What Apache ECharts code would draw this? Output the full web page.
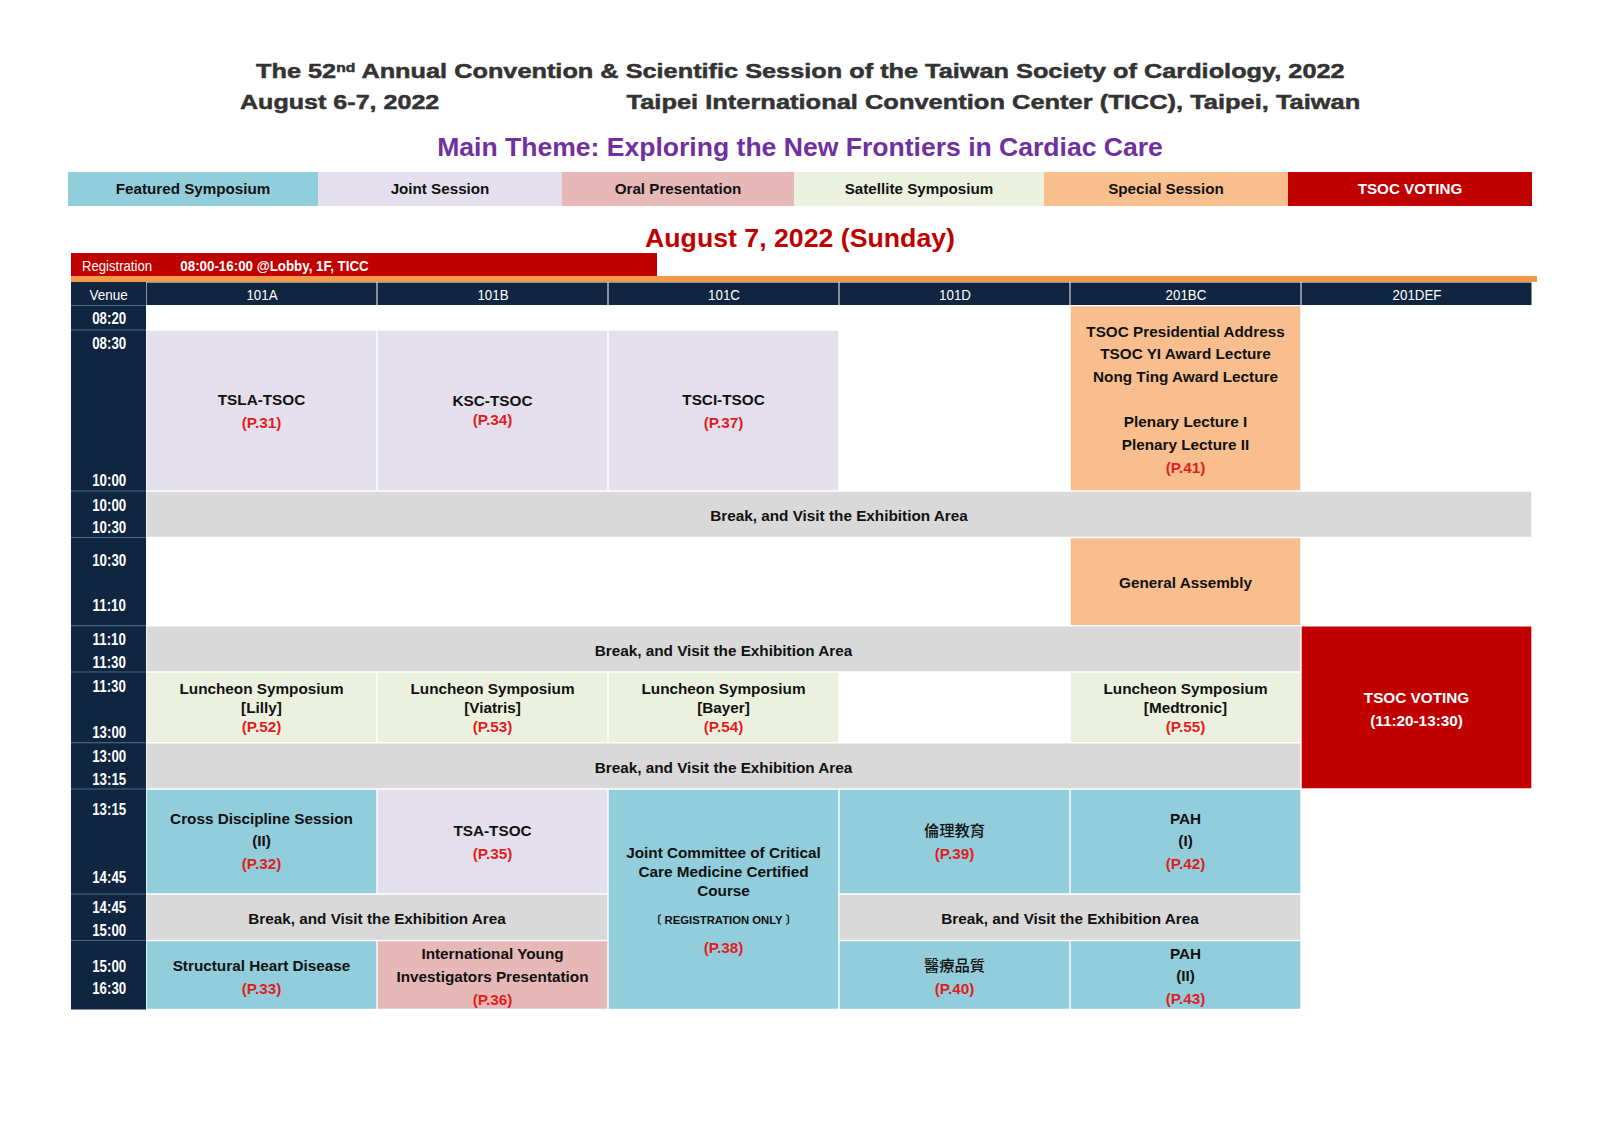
<!DOCTYPE html>
<html>
<head>
<meta charset="utf-8">
<title>TSOC 2022 program</title>
<script src="https://cdn.jsdelivr.net/npm/echarts@6/dist/echarts.min.js"></script>
<style>
html, body { margin: 0; padding: 0; background: #fff; }
#program { width: 1600px; height: 1131px; }
</style>
</head>
<body>
<div id="program"></div>
<script>
// ---- content
var kinds = ['Featured Symposium', 'Joint Session', 'Oral Presentation', 'Satellite Symposium', 'Special Session', 'TSOC VOTING'];
var venues = ['101A', '101B', '101C', '101D', '201BC', '201DEF'];
var timeRows = [['08:20'], ['08:30', '10:00'], ['10:00', '10:30'], ['10:30', '11:10'], ['11:10', '11:30'], ['11:30', '13:00'], ['13:00', '13:15'], ['13:15', '14:45'], ['14:45', '15:00'], ['15:00', '16:30']];
var breakText = 'Break, and Visit the Exhibition Area';

// venue from, venue to (exclusive), time row from, time row to (exclusive), kind (-1 = break), text lines, page
var sessions = [
    [0, 1, 1, 2, 1, ['TSLA-TSOC'], 'P.31'],
    [1, 2, 1, 2, 1, ['KSC-TSOC'], 'P.34'],
    [2, 3, 1, 2, 1, ['TSCI-TSOC'], 'P.37'],
    [4, 5, 0, 2, 4, ['TSOC Presidential Address', 'TSOC YI Award Lecture', 'Nong Ting Award Lecture', '', 'Plenary Lecture I', 'Plenary Lecture II'], 'P.41'],
    [0, 6, 2, 3, -1, [breakText], ''],
    [4, 5, 3, 4, 4, ['General Assembly'], ''],
    [0, 5, 4, 5, -1, [breakText], ''],
    [5, 6, 4, 7, 5, ['TSOC VOTING', '(11:20-13:30)'], ''],
    [0, 1, 5, 6, 3, ['Luncheon Symposium', '[Lilly]'], 'P.52'],
    [1, 2, 5, 6, 3, ['Luncheon Symposium', '[Viatris]'], 'P.53'],
    [2, 3, 5, 6, 3, ['Luncheon Symposium', '[Bayer]'], 'P.54'],
    [4, 5, 5, 6, 3, ['Luncheon Symposium', '[Medtronic]'], 'P.55'],
    [0, 5, 6, 7, -1, [breakText], ''],
    [0, 1, 7, 8, 0, ['Cross Discipline Session', '(II)'], 'P.32'],
    [1, 2, 7, 8, 1, ['TSA-TSOC'], 'P.35'],
    [2, 3, 7, 10, 0, ['Joint Committee of Critical', 'Care Medicine Certified', 'Course', '〔 REGISTRATION ONLY 〕'], 'P.38'],
    [3, 4, 7, 8, 0, ['倫理教育'], 'P.39'],
    [4, 5, 7, 8, 0, ['PAH', '(I)'], 'P.42'],
    [0, 2, 8, 9, -1, [breakText], ''],
    [3, 5, 8, 9, -1, [breakText], ''],
    [0, 1, 9, 10, 0, ['Structural Heart Disease'], 'P.33'],
    [1, 2, 9, 10, 2, ['International Young', 'Investigators Presentation'], 'P.36'],
    [3, 4, 9, 10, 0, ['醫療品質'], 'P.40'],
    [4, 5, 9, 10, 0, ['PAH', '(II)'], 'P.43']
];

// ---- layout and style, kept apart from the content
var kindColors = ['#92CDDC', '#E4DFEC', '#E6B8B7', '#EBF1DE', '#F8BE8E', '#C00000'];
var legendWidths = [250, 244, 232, 250, 244, 244];
var navy = '#10253F', breakColor = '#D9D9D9', pageColor = '#E01E1E';
var sansFont = '"Liberation Sans", "Noto Sans CJK TC", sans-serif';

// band heights of the y axis: registration, orange rule, venue header, then one per time row
var topBands = [23, 6, 23.5];
var rowBands = [24.5, 161, 46.5, 88.2, 46.3, 70.7, 46.3, 105, 46.5, 69];
var rowEdges = [topBands[0] + topBands[1] + topBands[2]];
rowBands.forEach(function (h, i) { rowEdges.push(rowEdges[i] + h); });
var timeColumn = -75 / 231, orangeEnd = 6 + 5 / 231;

// inset of the first time label from the row top, of the second from the row bottom
var timeInsets = [[13.3], [13.5, 10.6], [14.3, 9.7], [23.3, 19.9], [14.1, 9.5], [14.8, 10.2], [14.1, 9.2], [20.5, 16.2], [13.8, 10], [26, 20.7]];
// text line gap and shift from the cell centre, same order as sessions
var textFit = [
    [22.4, 0.5], [18.5, -0.5], [22.4, 0.5], [22.7, 1], [22, 0.75], [22, 1.2], [22, 1.5], [23.3, 1.7],
    [19.3, 0], [19.3, 0], [19.3, 0], [19.3, 0], [22, 1.7], [22.4, -0.9], [22.6, 0.5], [0, 0],
    [23, 0], [22.4, -0.9], [22, 1.05], [22, 1.05], [22.4, 2], [23, 1], [23, 1.8], [22.5, 0.5]
];
var jointOffsets = [-46.5, -27.5, -8.7, 20.8, 48];

function textEl(text, x, y, font, fill, scaleX) {
    return {
        type: 'text', x: x, y: y, scaleX: scaleX || 1, silent: true,
        style: { text: text, font: font, fill: fill, align: 'center', verticalAlign: 'middle' }
    };
}

function cellRect(api, from, to, y0, y1, fill, inset) {
    var a = api.coord([from, y0]), b = api.coord([to, y1]);
    var g = inset === undefined ? 0.7 : inset;
    return {
        type: 'rect',
        shape: { x: a[0] + g, y: a[1] + g, width: b[0] - a[0] - 2 * g, height: b[1] - a[1] - 2 * g },
        style: { fill: fill }
    };
}

function lineFont(line) {
    if (line.indexOf('REGISTRATION') >= 0) return 'bold 11.3px ' + sansFont;
    if (/[\u4e00-\u9fff]/.test(line)) return '500 15.3px ' + sansFont;
    return 'bold 15.3px ' + sansFont;
}

function renderSession(params, api) {
    var s = sessions[params.dataIndex];
    var fit = textFit[params.dataIndex];
    var a = api.coord([s[0], rowEdges[s[2]]]), b = api.coord([s[1], rowEdges[s[3]]]);
    var cx = (a[0] + b[0]) / 2, cy = (a[1] + b[1]) / 2;
    var children = [cellRect(api, s[0], s[1], rowEdges[s[2]], rowEdges[s[3]], s[4] < 0 ? breakColor : kindColors[s[4]])];
    var lines = s[6] ? s[5].concat(['(' + s[6] + ')']) : s[5];
    lines.forEach(function (line, i) {
        if (!line) return;
        var isPage = s[6] && i === lines.length - 1;
        var off = params.dataIndex === 15 ? jointOffsets[i] : (i - (lines.length - 1) / 2) * fit[0] + fit[1];
        children.push(textEl(line, cx, cy + off, lineFont(line),
            isPage ? pageColor : (s[4] === 5 ? '#fff' : '#111')));
    });
    return { type: 'group', children: children };
}

function renderHeader(params, api) {
    var i = params.dataIndex;
    var top = topBands[0] + topBands[1], bottom = top + topBands[2];
    if (i === 0) {
        var a = api.coord([timeColumn, top]), b = api.coord([0, bottom]);
        return { type: 'group', children: [
            cellRect(api, timeColumn, 0, top, bottom - 0.5, navy, 0),
            textEl('Venue', (a[0] + b[0]) / 2, (a[1] + b[1]) / 2 + 1.3, '15px ' + sansFont, '#fff', 0.9)
        ] };
    }
    var c = api.coord([i - 1, top]), d = api.coord([i, bottom]);
    return { type: 'group', children: [
        cellRect(api, i - 1, i, top, bottom, navy, 0.5),
        textEl(venues[i - 1], (c[0] + d[0]) / 2 + 0.5, (c[1] + d[1]) / 2 + 1.3, '15px ' + sansFont, '#fff', 0.89)
    ] };
}

function renderTimes(params, api) {
    var i = params.dataIndex, labels = timeRows[i], insets = timeInsets[i];
    var a = api.coord([timeColumn, rowEdges[i]]), b = api.coord([0, rowEdges[i + 1]]);
    var cx = (a[0] + b[0]) / 2 + 0.7;
    var font = 'bold 16px ' + sansFont;
    var children = [
        cellRect(api, timeColumn, 0, rowEdges[i], rowEdges[i + 1], navy, 0),
        { type: 'rect', shape: { x: a[0], y: a[1] - 0.5, width: b[0] - a[0], height: 1 }, style: { fill: '#3E6E86' } },
        textEl(labels[0], cx, a[1] + insets[0], font, '#fff', 0.83)
    ];
    if (labels[1]) children.push(textEl(labels[1], cx, b[1] - insets[1], font, '#fff', 0.83));
    return { type: 'group', children: children };
}

function renderRegistration(params, api) {
    var a = api.coord([timeColumn, 0]), b = api.coord([2 + 49 / 231, topBands[0]]);
    var y = (a[1] + b[1]) / 2 + 1.5;
    var name = textEl('Registration', a[0] + 46, y, '15px ' + sansFont, '#fff', 0.875);
    var when = textEl('08:00-16:00 @Lobby, 1F, TICC', a[0] + 203.5, y, 'bold 15px ' + sansFont, '#fff', 0.889);
    return { type: 'group', children: [cellRect(api, timeColumn, 2 + 49 / 231, 0, topBands[0], '#C00000', 0), name, when] };
}

function renderRule(params, api) {
    return cellRect(api, timeColumn, orangeEnd, topBands[0], topBands[0] + topBands[1], '#F29A4A', 0);
}

var legendEdges = [0];
legendWidths.forEach(function (w, i) { legendEdges.push(legendEdges[i] + w); });

function renderLegend(params, api) {
    var i = params.dataIndex;
    var a = api.coord([legendEdges[i], 0]), b = api.coord([legendEdges[i + 1], 1]);
    return { type: 'group', children: [
        { type: 'rect', shape: { x: a[0], y: b[1], width: b[0] - a[0], height: a[1] - b[1] }, style: { fill: kindColors[i] } },
        textEl(kinds[i], (a[0] + b[0]) / 2, (a[1] + b[1]) / 2 - 0.5, 'bold 15.2px ' + sansFont, i === 5 ? '#fff' : '#111')
    ] };
}

var dom_program = document.getElementById('program');
var myChart_program = echarts.init(dom_program, null, { renderer: 'svg' });

var programOption = {
    animation: false,
    backgroundColor: '#fff',
    title: [
        { text: 'Main Theme: Exploring the New Frontiers in Cardiac Care', left: 'center', top: 133.5, padding: 0,
          textStyle: { fontFamily: 'Liberation Sans', fontWeight: 'bold', fontSize: 26.55, color: '#7030A0' } },
        { text: 'August 7, 2022 (Sunday)', left: 'center', top: 224.5, padding: 0,
          textStyle: { fontFamily: 'Liberation Sans', fontWeight: 'bold', fontSize: 26.7, color: '#C00000' } }
    ],
    graphic: [
        { type: 'text', x: 256, y: 71, scaleX: 1.205, silent: true, style: {
            text: 'The 52{s|nd} Annual Convention & Scientific Session of the Taiwan Society of Cardiology, 2022',
            font: 'bold 21px "Liberation Sans"', fill: '#333', stroke: '#333', lineWidth: 0.5, align: 'left', verticalAlign: 'middle',
            rich: { s: { font: 'bold 13px "Liberation Sans"', fill: '#333', verticalAlign: 'top' } }
        } },
        { type: 'text', x: 240, y: 102, scaleX: 1.195, silent: true, style: {
            text: 'August 6-7, 2022', font: 'bold 21px "Liberation Sans"', fill: '#333', stroke: '#333', lineWidth: 0.5, align: 'left', verticalAlign: 'middle'
        } },
        { type: 'text', x: 626.5, y: 102, scaleX: 1.212, silent: true, style: {
            text: 'Taipei International Convention Center (TICC), Taipei, Taiwan', font: 'bold 21px "Liberation Sans"', fill: '#333', stroke: '#333', lineWidth: 0.5, align: 'left', verticalAlign: 'middle'
        } }
    ],
    grid: [
        { left: 71, width: 1466, top: 253, height: rowEdges[rowEdges.length - 1] },
        { left: 68, width: 1464, top: 172, height: 34 }
    ],
    xAxis: [
        { type: 'value', gridIndex: 0, min: timeColumn, max: orangeEnd, show: false },
        { type: 'value', gridIndex: 1, min: 0, max: legendEdges[legendEdges.length - 1], show: false }
    ],
    yAxis: [
        { type: 'value', gridIndex: 0, inverse: true, min: 0, max: rowEdges[rowEdges.length - 1], show: false },
        { type: 'value', gridIndex: 1, min: 0, max: 1, show: false }
    ],
    series: [
        { type: 'custom', name: 'legend', xAxisIndex: 1, yAxisIndex: 1, renderItem: renderLegend, silent: true,
          data: kinds.map(function (k, i) { return [legendEdges[i], 0]; }) },
        { type: 'custom', name: 'registration', renderItem: renderRegistration, silent: true, data: [[0, 0]] },
        { type: 'custom', name: 'rule', renderItem: renderRule, silent: true, data: [[0, 0]] },
        { type: 'custom', name: 'venues', renderItem: renderHeader, silent: true,
          data: ['Venue'].concat(venues).map(function (v, i) { return [i, 0]; }) },
        { type: 'custom', name: 'times', renderItem: renderTimes, silent: true,
          data: timeRows.map(function (t, i) { return [0, rowEdges[i]]; }) },
        { type: 'custom', name: 'sessions', renderItem: renderSession, silent: true,
          data: sessions.map(function (s) { return [s[0], rowEdges[s[2]]]; }) }
    ]
};

myChart_program.setOption(programOption, true);
</script>
</body>
</html>
